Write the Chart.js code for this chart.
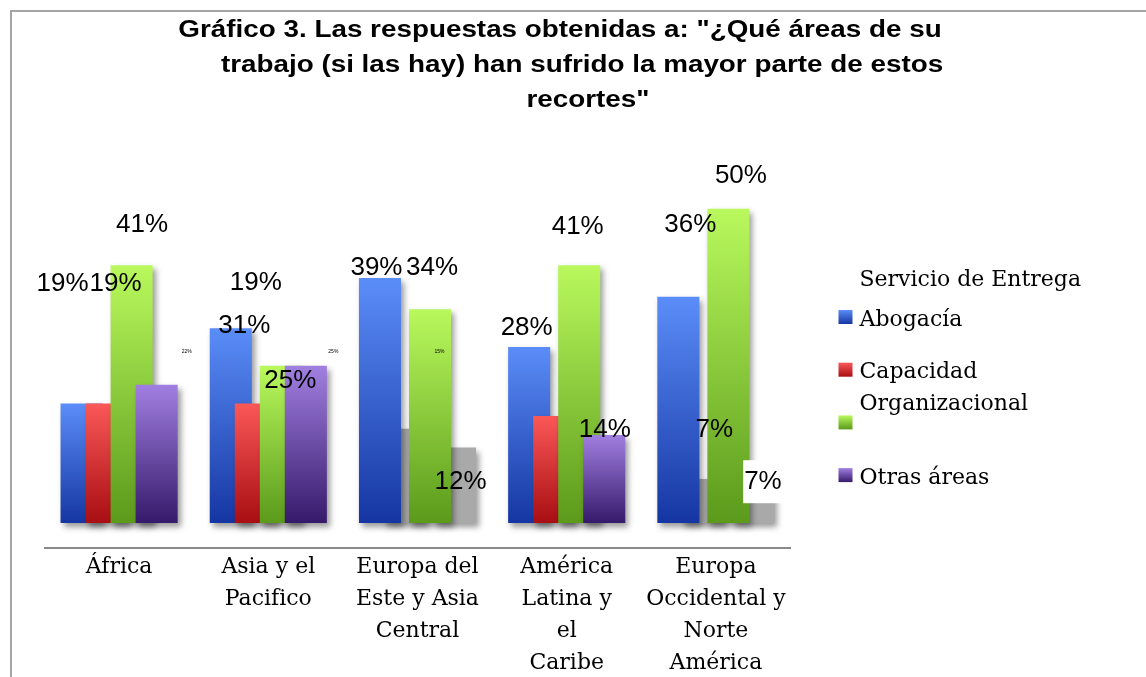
<!DOCTYPE html>
<html lang="es">
<head>
<meta charset="utf-8">
<title>Gráfico 3</title>
<script src="https://cdn.jsdelivr.net/npm/chart.js@4.4.1/dist/chart.umd.min.js"></script>
<style>
  html, body { margin: 0; padding: 0; background: #fff; }
  #wrap { position: relative; width: 1146px; height: 677px; overflow: hidden; }
  #frame {
    position: absolute; left: 10px; top: 10px; right: 0; bottom: 0;
    border-top: 2px solid #a4a4a4; border-left: 2px solid #a4a4a4;
  }
  #chart { position: absolute; left: 0; top: 0; }
</style>
</head>
<body>
<div id="wrap">
  <div id="frame"></div>
  <canvas id="chart" width="1146" height="677"></canvas>
</div>
<script>
const titleLines = [
  'Gráfico 3. Las respuestas obtenidas a: "¿Qué áreas de su',
  "trabajo (si las hay) han sufrido la mayor parte de estos",
  'recortes"',
];
const titleCenters = [560, 582, 588];

const regions = [
  ["África"],
  ["Asia y el", "Pacifico"],
  ["Europa del", "Este y Asia", "Central"],
  ["América", "Latina y", "el", "Caribe"],
  ["Europa", "Occidental y", "Norte", "América"],
];

const legendTitle = "Servicio de Entrega";
const seriesNames = ["Abogacía", "Capacidad", "Organizacional", "Otras áreas"];

// percentages per region
const abogacia = [19, 31, 39, 28, 36];
const capacidad = [19, 19, 15, 17, 7];
const organizacional = [41, 25, 34, 41, 50];
const otrasAreas = [22, 25, 12, 14, 7];

// in the original these bars only show up as a grey shadow
const shadowOnly = [
  [false, false, false, false, false],
  [false, false, true, false, true],
  [false, false, false, false, false],
  [false, false, true, false, true],
];

const series = [abogacia, capacidad, organizacional, otrasAreas];

const palette = [
  { top: "#5b8df8", bottom: "#1536a2" },
  { top: "#fb5858", bottom: "#a80e12" },
  { top: "#b9f95d", bottom: "#5b9a1b" },
  { top: "#a17fe1", bottom: "#361a6a" },
];

// label placement in the original is off from the bars, so nudge each one
// [dx, dy, kind] relative to the top centre of its bar
const labelNudge = [
  [[-19, -120], [13.5, -2], [-3.5, -9.6], [-2.5, -18.7], [12, -72.4]],
  [[9, -120], [0, -121], [34.5, -77, "tiny"], null, [11, -48.7]],
  [[10.5, -40.5], [9.5, 15], [2, -41], [-1.5, -39], [12.5, -32.5]],
  [[30, -33, "tiny"], [27.5, -14.6, "tiny"], [5.5, 34.7], [0.5, -4.7], [9.5, 3.3, "boxed"]],
];

function barFill(s) {
  return (c) => {
    const chart = c.chart;
    const y = chart.scales.y;
    if (!y || c.raw == null || !chart.chartArea) return palette[s].top;
    const g = chart.ctx.createLinearGradient(0, y.getPixelForValue(c.raw), 0, y.getPixelForValue(0));
    g.addColorStop(0, palette[s].top);
    g.addColorStop(1, palette[s].bottom);
    return g;
  };
}

// bars wider than their slot so neighbours overlap like in the original
const barShape = { categoryPercentage: 0.671, barPercentage: 1.68, borderWidth: 0 };

const frontSets = series.map((vals, s) => ({
  label: seriesNames[s],
  data: vals.map((v, i) => (shadowOnly[s][i] ? null : v)),
  backgroundColor: barFill(s),
  stack: "s" + s,
  ...barShape,
}));

// same stack id -> same slot as the series it belongs to
const shadowSets = series.map((vals, s) => ({
  label: seriesNames[s] + " (sombra)",
  data: vals.map((v, i) => (shadowOnly[s][i] ? v : null)),
  backgroundColor: "#a9a9a9",
  stack: "s" + s,
  ...barShape,
}));

// draw shadows first, then bars left to right so the right bar overlaps
const drawOrder = {
  id: "drawOrder",
  beforeDatasetsDraw(chart) {
    const ctx = chart.ctx;
    const metas = chart.getSortedVisibleDatasetMetas().slice().sort((a, b) => a.index - b.index);
    ctx.save();
    ctx.shadowColor = "rgba(0,0,0,0.4)";
    ctx.shadowBlur = 6;
    ctx.shadowOffsetX = 3;
    ctx.shadowOffsetY = 4;
    metas.filter((m) => m.index >= series.length).forEach((m) => m.controller.draw());
    metas.filter((m) => m.index < series.length).forEach((m) => m.controller.draw());
    ctx.restore();
    return false;
  },
};

const titleText = {
  id: "titleText",
  beforeDraw(chart) {
    const ctx = chart.ctx;
    ctx.save();
    ctx.fillStyle = "#000";
    ctx.font = 'bold 23px "Liberation Sans", Arial, sans-serif';
    ctx.textAlign = "center";
    ctx.textBaseline = "alphabetic";
    titleLines.forEach((line, k) => {
      ctx.save();
      ctx.translate(titleCenters[k], 36.7 + k * 34.9);
      ctx.scale(1.21, 1);
      ctx.fillText(line, 0, 0);
      ctx.restore();
    });
    ctx.restore();
  },
};

const valueLabels = {
  id: "valueLabels",
  afterDraw(chart) {
    const ctx = chart.ctx;
    ctx.save();
    ctx.textAlign = "center";
    ctx.textBaseline = "middle";
    series.forEach((vals, s) => {
      vals.forEach((v, i) => {
        const n = labelNudge[s][i];
        if (!n) return;
        const meta = chart.getDatasetMeta(shadowOnly[s][i] ? series.length + s : s);
        const el = meta.data[i];
        const x = el.x + n[0];
        const y = el.y + n[1];
        const text = v + "%";
        ctx.font = n[2] === "tiny"
          ? '5px "Liberation Sans", Arial, sans-serif'
          : '26px "Liberation Sans", Arial, sans-serif';
        if (n[2] === "boxed") {
          const w = ctx.measureText(text).width + 2;
          ctx.fillStyle = "#fff";
          ctx.fillRect(x - w / 2, y - 22, w, 43);
        }
        ctx.fillStyle = "#000";
        ctx.fillText(text, x, y);
      });
    });
    ctx.restore();
  },
};

const sideLegend = {
  id: "sideLegend",
  afterDraw(chart) {
    const ctx = chart.ctx;
    const left = chart.chartArea.right + 48;
    const top = chart.chartArea.top;
    ctx.save();
    ctx.font = '22px "DejaVu Serif", serif';
    ctx.fillStyle = "#000";
    ctx.textAlign = "left";
    ctx.textBaseline = "middle";
    ctx.fillText(legendTitle, left + 21, top + 134);
    seriesNames.forEach((name, s) => {
      const cy = top + 171 + s * 52.7;
      const g = ctx.createLinearGradient(0, cy - 7, 0, cy + 7);
      g.addColorStop(0, palette[s].top);
      g.addColorStop(1, palette[s].bottom);
      ctx.fillStyle = g;
      ctx.fillRect(left, cy - 7, 14, 14);
      ctx.fillStyle = "#000";
      // the green entry's text sits above its box in the original
      ctx.fillText(name, left + 21, cy + (s === 2 ? -18 : 3));
    });
    ctx.restore();
  },
};

new Chart(document.getElementById("chart"), {
  type: "bar",
  data: {
    labels: regions,
    datasets: [...frontSets, ...shadowSets],
  },
  options: {
    responsive: false,
    animation: false,
    layout: { padding: { top: 146, left: 44.5, right: 355.5, bottom: 0 } },
    scales: {
      x: {
        type: "category",
        offset: true,
        grid: { display: false, drawTicks: false },
        border: { display: true, color: "#8a8a8a", width: 2 },
        ticks: {
          color: "#000",
          padding: 3,
          maxRotation: 0,
          autoSkip: false,
          font: { family: '"DejaVu Serif", serif', size: 22, lineHeight: "32px" },
        },
        afterFit(scale) {
          scale.height = 129;
        },
      },
      y: {
        display: false,
        stacked: false,
        min: -4,
        max: 60,
      },
    },
    plugins: {
      legend: { display: false },
      title: { display: false },
      tooltip: { enabled: false },
    },
  },
  plugins: [drawOrder, titleText, valueLabels, sideLegend],
});
</script>
</body>
</html>
